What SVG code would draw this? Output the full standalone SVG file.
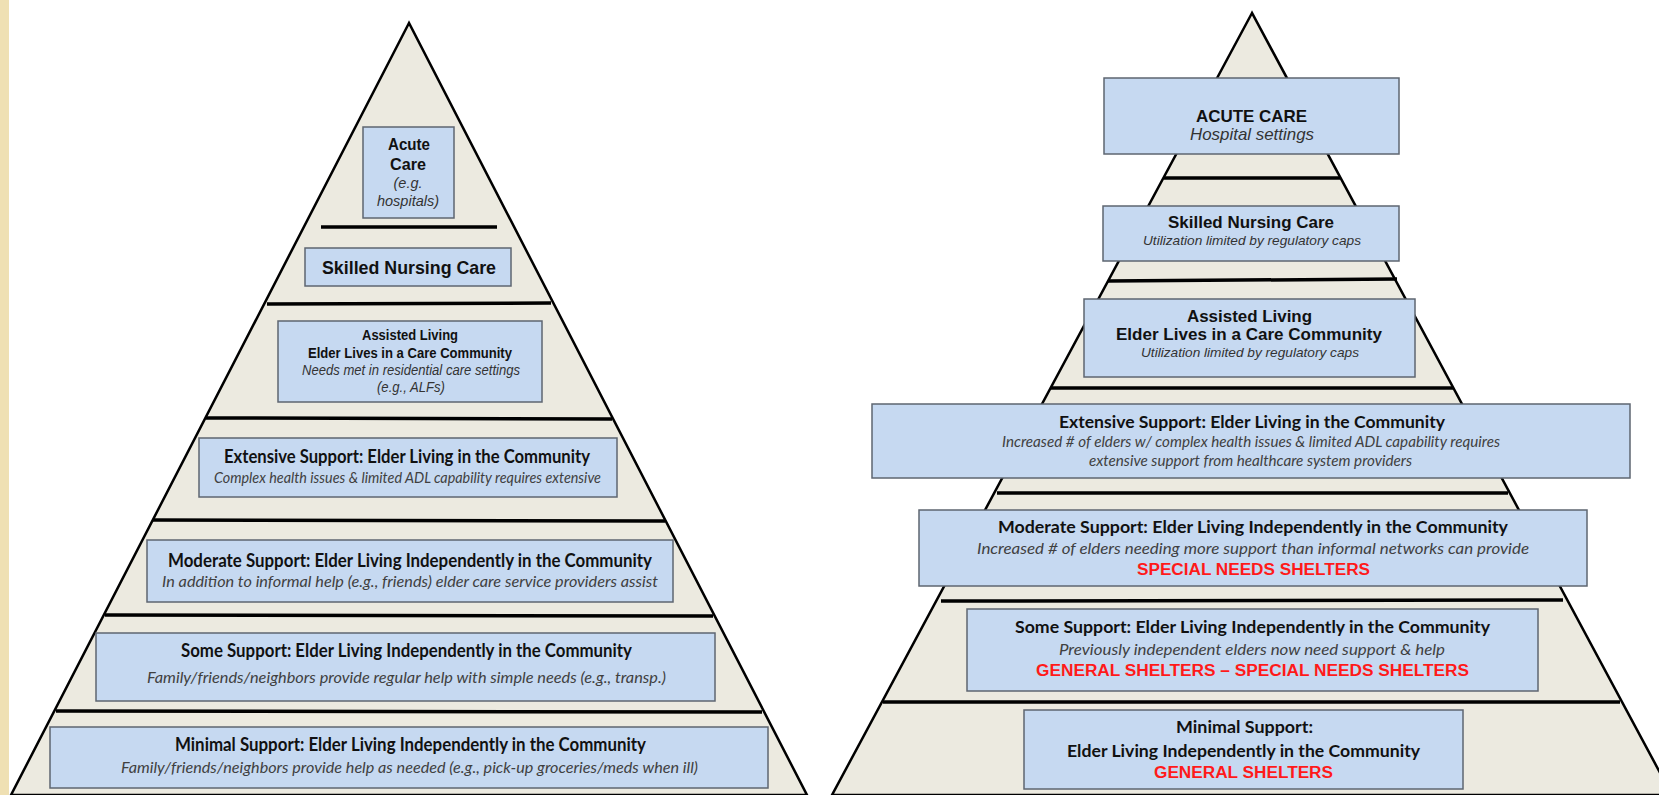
<svg xmlns="http://www.w3.org/2000/svg" width="1659" height="795" viewBox="0 0 1659 795">
<style>
.pyr{fill:#ECEAE0;stroke:#000;stroke-width:2.5;stroke-linejoin:miter}
.sep{stroke:#000;stroke-width:3.5;stroke-linecap:butt}
.box{fill:#C6D9F1;stroke:#5E6670;stroke-width:1.5}
.arb{font-family:"Liberation Sans",Arial,sans-serif;font-weight:bold;fill:#111}
.ari{font-family:"Liberation Sans",Arial,sans-serif;font-style:italic;fill:#333}
.cb{font-family:Lato,"Open Sans",sans-serif;font-weight:bold;fill:#111}
.ci{font-family:Lato,"Open Sans",sans-serif;font-style:italic;fill:#404040}
.red{font-family:"Liberation Sans",Arial,sans-serif;font-weight:bold;fill:#FF1A1A}
text{text-anchor:middle}
</style>
<rect x="0" y="0" width="1659" height="795" fill="#FFFFFF"/>
<rect x="0" y="0" width="9" height="795" fill="#EFE0B3"/>

<!-- Left pyramid -->
<polygon class="pyr" points="409,23 11,795 807,795"/>
<!-- Right pyramid -->
<polygon class="pyr" points="1252,13 832,795 1672,795"/>

<g id="separators">
  <line class="sep" x1="321" y1="227" x2="497" y2="227"/>
  <line class="sep" x1="267" y1="304" x2="551" y2="303"/>
  <line class="sep" x1="206" y1="418" x2="612" y2="419"/>
  <line class="sep" x1="153" y1="520" x2="665" y2="521"/>
  <line class="sep" x1="105" y1="615" x2="713" y2="616"/>
  <line class="sep" x1="56" y1="711" x2="762" y2="712"/>

  <line class="sep" x1="1164" y1="178" x2="1340" y2="178"/>
  <line class="sep" x1="1108" y1="281" x2="1397" y2="279"/>
  <line class="sep" x1="1051" y1="388" x2="1453" y2="388"/>
  <line class="sep" x1="997" y1="493" x2="1508" y2="493"/>
  <line class="sep" x1="941" y1="601" x2="1563" y2="600"/>
  <line class="sep" x1="883" y1="702" x2="1620" y2="702"/>
</g>

<!-- Left pyramid nodes -->
<g id="left-acute-care">
  <rect class="box" x="363" y="127" width="91" height="91"/>
  <text class="arb" x="409" y="150" font-size="16.5" textLength="42" lengthAdjust="spacingAndGlyphs">Acute</text>
  <text class="arb" x="408" y="170" font-size="16.5" textLength="36" lengthAdjust="spacingAndGlyphs">Care</text>
  <text class="ari" x="408" y="188" font-size="15" textLength="29" lengthAdjust="spacingAndGlyphs">(e.g.</text>
  <text class="ari" x="408" y="206" font-size="15" textLength="62" lengthAdjust="spacingAndGlyphs">hospitals)</text>
</g>
<g id="left-skilled-nursing">
  <rect class="box" x="305" y="248" width="206" height="38"/>
  <text class="arb" x="409" y="273.5" font-size="18.5" textLength="174" lengthAdjust="spacingAndGlyphs">Skilled Nursing Care</text>
</g>
<g id="left-assisted-living">
  <rect class="box" x="278" y="321" width="264" height="81"/>
  <text class="arb" x="410" y="340" font-size="15" textLength="96" lengthAdjust="spacingAndGlyphs">Assisted Living</text>
  <text class="arb" x="410" y="358" font-size="15" textLength="204" lengthAdjust="spacingAndGlyphs">Elder Lives in a Care Community</text>
  <text class="ari" x="411" y="375" font-size="14" textLength="218" lengthAdjust="spacingAndGlyphs">Needs met in residential care settings</text>
  <text class="ari" x="411" y="392" font-size="14" textLength="68" lengthAdjust="spacingAndGlyphs">(e.g., ALFs)</text>
</g>
<g id="left-extensive-support">
  <rect class="box" x="199" y="438" width="418" height="59"/>
  <text class="cb" x="407" y="463" font-size="18" textLength="366" lengthAdjust="spacingAndGlyphs">Extensive Support: Elder Living in the Community</text>
  <text class="ci" x="407.5" y="483" font-size="15" textLength="387" lengthAdjust="spacingAndGlyphs">Complex health issues &amp; limited ADL capability requires extensive</text>
</g>
<g id="left-moderate-support">
  <rect class="box" x="147" y="540" width="526" height="62"/>
  <text class="cb" x="410" y="567" font-size="18" textLength="484" lengthAdjust="spacingAndGlyphs">Moderate Support: Elder Living Independently in the Community</text>
  <text class="ci" x="410" y="587" font-size="15" textLength="496" lengthAdjust="spacingAndGlyphs">In addition to informal help (e.g., friends) elder care service providers assist</text>
</g>
<g id="left-some-support">
  <rect class="box" x="96" y="633" width="619" height="68"/>
  <text class="cb" x="406.5" y="657" font-size="18" textLength="451" lengthAdjust="spacingAndGlyphs">Some Support: Elder Living Independently in the Community</text>
  <text class="ci" x="406.5" y="683" font-size="15" textLength="519" lengthAdjust="spacingAndGlyphs">Family/friends/neighbors provide regular help with simple needs (e.g., transp.)</text>
</g>
<g id="left-minimal-support">
  <rect class="box" x="50" y="727" width="718" height="61"/>
  <text class="cb" x="410.5" y="751" font-size="18" textLength="471" lengthAdjust="spacingAndGlyphs">Minimal Support: Elder Living Independently in the Community</text>
  <text class="ci" x="409.5" y="773" font-size="15" textLength="577" lengthAdjust="spacingAndGlyphs">Family/friends/neighbors provide help as needed (e.g., pick-up groceries/meds when ill)</text>
</g>

<!-- Right pyramid nodes -->
<g id="right-acute-care">
  <rect class="box" x="1104" y="78" width="295" height="76"/>
  <text class="arb" x="1251.5" y="122" font-size="17" textLength="111" lengthAdjust="spacingAndGlyphs">ACUTE CARE</text>
  <text class="ari" x="1252" y="140" font-size="16.5" textLength="124" lengthAdjust="spacingAndGlyphs">Hospital settings</text>
</g>
<g id="right-skilled-nursing">
  <rect class="box" x="1103" y="206" width="296" height="55"/>
  <text class="arb" x="1251" y="228" font-size="16.5" textLength="166" lengthAdjust="spacingAndGlyphs">Skilled Nursing Care</text>
  <text class="ari" x="1252" y="245" font-size="13" textLength="218" lengthAdjust="spacingAndGlyphs">Utilization limited by regulatory caps</text>
</g>
<g id="right-assisted-living">
  <rect class="box" x="1084" y="299" width="331" height="78"/>
  <text class="arb" x="1249.5" y="322" font-size="16.5" textLength="125" lengthAdjust="spacingAndGlyphs">Assisted Living</text>
  <text class="arb" x="1249" y="340" font-size="16.5" textLength="266" lengthAdjust="spacingAndGlyphs">Elder Lives in a Care Community</text>
  <text class="ari" x="1250" y="357" font-size="13" textLength="218" lengthAdjust="spacingAndGlyphs">Utilization limited by regulatory caps</text>
</g>
<g id="right-extensive-support">
  <rect class="box" x="872" y="404" width="758" height="74"/>
  <text class="cb" x="1252" y="428" font-size="17" textLength="386" lengthAdjust="spacingAndGlyphs">Extensive Support: Elder Living in the Community</text>
  <text class="ci" x="1251" y="447" font-size="15" textLength="498" lengthAdjust="spacingAndGlyphs">Increased # of elders w/ complex health issues &amp; limited ADL capability requires</text>
  <text class="ci" x="1250.5" y="466" font-size="15" textLength="323" lengthAdjust="spacingAndGlyphs">extensive support from healthcare system providers</text>
</g>
<g id="right-moderate-support">
  <rect class="box" x="919" y="510" width="668" height="76"/>
  <text class="cb" x="1253" y="533" font-size="17" textLength="510" lengthAdjust="spacingAndGlyphs">Moderate Support: Elder Living Independently in the Community</text>
  <text class="ci" x="1253" y="554" font-size="16" textLength="552" lengthAdjust="spacingAndGlyphs">Increased # of elders needing more support than informal networks can provide</text>
  <text class="red" x="1253.5" y="575" font-size="16" textLength="233" lengthAdjust="spacingAndGlyphs">SPECIAL NEEDS SHELTERS</text>
</g>
<g id="right-some-support">
  <rect class="box" x="967" y="609" width="571" height="82"/>
  <text class="cb" x="1252.5" y="633" font-size="17" textLength="475" lengthAdjust="spacingAndGlyphs">Some Support: Elder Living Independently in the Community</text>
  <text class="ci" x="1252" y="655" font-size="16" textLength="386" lengthAdjust="spacingAndGlyphs">Previously independent elders now need support &amp; help</text>
  <text class="red" x="1252.5" y="676" font-size="16" textLength="433" lengthAdjust="spacingAndGlyphs">GENERAL SHELTERS – SPECIAL NEEDS SHELTERS</text>
</g>
<g id="right-minimal-support">
  <rect class="box" x="1024" y="710" width="439" height="79"/>
  <text class="cb" x="1244.5" y="733" font-size="17" textLength="137" lengthAdjust="spacingAndGlyphs">Minimal Support:</text>
  <text class="cb" x="1243.5" y="757" font-size="17" textLength="353" lengthAdjust="spacingAndGlyphs">Elder Living Independently in the Community</text>
  <text class="red" x="1243.5" y="778" font-size="16" textLength="179" lengthAdjust="spacingAndGlyphs">GENERAL SHELTERS</text>
</g>
</svg>
